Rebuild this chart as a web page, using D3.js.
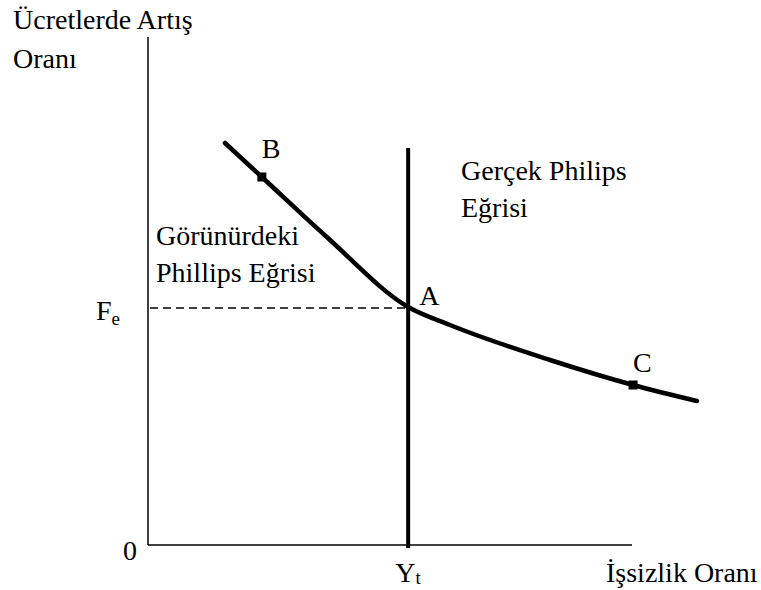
<!DOCTYPE html>
<html>
<head>
<meta charset="utf-8">
<script src="https://cdn.jsdelivr.net/npm/d3@7"></script>
<style>
  body { margin: 0; background: #fff; }
</style>
</head>
<body>
<svg id="chart"></svg>
<script>
// curve (Görünürdeki Phillips Eğrisi) in axis units
const curveX = [1.4, 2.07, 3.25, 4.73, 5.49, 7.31, 8.82, 9.98];
const curveY = [8.04, 7.36, 6.16, 4.76, 4.4, 3.7, 3.2, 2.88];

// labelled points
const pointNames = ["B", "A", "C"];
const pointX = [2.07, 4.73, 8.82];
const pointY = [7.36, 4.76, 3.2];

// natural rate (vertical) and expected inflation (dashed)
const naturalX = 4.73;
const naturalY = [-0.06, 7.94];
const expectedY = 4.74;

// axis extents
const axisXMax = 8.8;
const axisYMax = 10.16;

const width = 761, height = 590;
const serif = '"Liberation Serif", "Times New Roman", "DejaVu Serif", serif';

const svg = d3.select("#chart")
    .attr("width", width)
    .attr("height", height)
    .style("font-family", serif);

const x = d3.scaleLinear().domain([0, 10]).range([148, 698]);
const y = d3.scaleLinear().domain([0, 10]).range([545, 45]);

// axes
svg.append("line")
    .attr("x1", x(0)).attr("x2", x(0))
    .attr("y1", y(0)).attr("y2", y(axisYMax))
    .attr("stroke", "#000").attr("stroke-width", 1.5);
svg.append("line")
    .attr("x1", x(0)).attr("x2", x(axisXMax))
    .attr("y1", y(0)).attr("y2", y(0))
    .attr("stroke", "#000").attr("stroke-width", 1.5);

// dashed line at F_e
svg.append("line")
    .attr("x1", x(0) + 2).attr("x2", x(naturalX))
    .attr("y1", y(expectedY)).attr("y2", y(expectedY))
    .attr("stroke", "#000").attr("stroke-width", 1.5)
    .attr("stroke-dasharray", "8,5");

// vertical Phillips curve
svg.append("line")
    .attr("x1", x(naturalX)).attr("x2", x(naturalX))
    .attr("y1", y(naturalY[0])).attr("y2", y(naturalY[1]))
    .attr("stroke", "#000").attr("stroke-width", 4);

// short-run curve
const line = d3.line()
    .x(d => x(d[0]))
    .y(d => y(d[1]))
    .curve(d3.curveMonotoneX);

svg.append("path")
    .datum(d3.zip(curveX, curveY))
    .attr("d", line)
    .attr("fill", "none")
    .attr("stroke", "#000")
    .attr("stroke-width", 4.5)
    .attr("stroke-linecap", "round");

// markers at B and C
svg.selectAll(".mark")
    .data([0, 2])
    .enter()
    .append("rect")
    .attr("x", i => x(pointX[i]) - 4.5)
    .attr("y", i => y(pointY[i]) - 4.5)
    .attr("width", 9).attr("height", 9)
    .attr("fill", "#000");

function addText(tx, ty, str, size) {
    return svg.append("text")
        .attr("x", tx).attr("y", ty)
        .attr("font-family", serif)
        .attr("font-size", size || "28px")
        .attr("fill", "#000")
        .text(str);
}

// point labels
const labelOffset = [[0, -19], [11, -2], [0, -13]];
pointNames.forEach((d, i) => {
    addText(x(pointX[i]) + labelOffset[i][0], y(pointY[i]) + labelOffset[i][1], d);
});

addText(13, 29, "Ücretlerde Artış");
addText(13, 68, "Oranı");
addText(461, 180, "Gerçek Philips");
addText(461, 217, "Eğrisi");
addText(156, 245, "Görünürdeki");
addText(156, 282, "Phillips Eğrisi");
addText(123, 560, "0");
addText(606, 582, "İşsizlik Oranı");

// F_e
const fe = addText(96, 320, "F");
fe.append("tspan").attr("dy", 5).attr("font-size", "19px").text("e");

// Y_t
const yt = addText(x(naturalX) - 13, 582, "Y");
yt.append("tspan").attr("dy", 2).attr("font-size", "19px").text("t");
</script>
</body>
</html>
